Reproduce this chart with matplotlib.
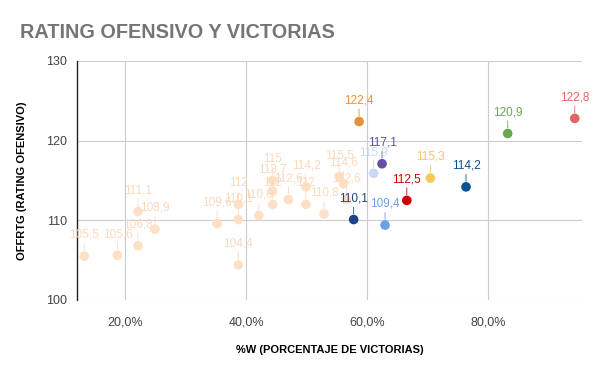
import matplotlib
matplotlib.use("Agg")
import matplotlib.pyplot as plt
from matplotlib.ticker import FuncFormatter

plt.rcParams['font.family'] = ['Liberation Sans', 'DejaVu Sans']

# win percentage (%) and offensive rating per team
win_pct = [13.2, 18.7, 22.1, 22.1, 24.9, 35.2, 38.7, 38.7, 38.7, 42.1,
           44.4, 44.4, 44.4, 47.0, 49.9, 49.9, 52.9, 55.4, 56.1, 56.6,
           94.4, 83.3, 76.4, 70.5, 66.6, 63.0, 57.8, 62.5, 61.1, 58.7]
off_rtg = [105.5, 105.6, 111.1, 106.8, 108.9, 109.6, 112.0, 110.1, 104.4, 110.6,
           115.0, 113.7, 112.0, 112.6, 114.2, 112.0, 110.8, 115.5, 114.6, 112.6,
           122.8, 120.9, 114.2, 115.3, 112.5, 109.4, 110.1, 117.1, 115.9, 122.4]
peach = '#fde0c5'
colors = [peach] * 20 + ['#e06666', '#6aa84f', '#0b5394', '#f6c95a', '#cc0000',
                         '#6d9eeb', '#1c4587', '#674ea7', '#c9daf8', '#e69138']
label_colors = ['#fbd9bb'] * 20 + colors[20:]


def fmt_val(v):
    s = "{:.1f}".format(v).replace('.', ',')
    return s[:-2] if s.endswith(',0') else s


fig = plt.figure(figsize=(6, 3.71), dpi=100)
ax = fig.add_axes([0.1283, 0.1914, 0.97 - 0.1283, 0.8356 - 0.1914])

ax.scatter(win_pct, off_rtg, s=48, c=colors, zorder=3, linewidths=0)
for x, y, lc in zip(win_pct, off_rtg, label_colors):
    ax.annotate(fmt_val(y), (x, y), xytext=(0, 11), textcoords='offset points',
                ha='center', va='bottom', fontsize=8.5, color=lc, zorder=4,
                arrowprops=dict(arrowstyle='-', color=lc, lw=0.6, shrinkA=0, shrinkB=4))

ax.set_xlim(12.0, 95.6)
ax.set_ylim(100, 130)
ax.set_xticks([20, 40, 60, 80])
ax.set_yticks([100, 110, 120, 130])
ax.xaxis.set_major_formatter(FuncFormatter(lambda v, p: "{:.1f}%".format(v).replace('.', ',')))
ax.grid(True, color='#cccccc', lw=0.8)
ax.set_axisbelow(True)
for side in ['top', 'right', 'bottom']:
    ax.spines[side].set_visible(False)
ax.spines['left'].set_color('#222222')
ax.spines['left'].set_linewidth(1.0)
ax.tick_params(length=0, labelsize=9, colors='#444444')
ax.tick_params(axis='x', pad=12)
ax.tick_params(axis='y', pad=7)

ax.set_xlabel('%W (PORCENTAJE DE VICTORIAS)', fontsize=8, fontweight='bold', labelpad=12)
ax.set_ylabel('OFFRTG (RATING OFENSIVO)', fontsize=8, fontweight='bold', labelpad=14)
fig.text(20 / 600, 1 - 32 / 371, 'RATING OFENSIVO Y VICTORIAS', fontsize=14.3,
         fontweight='bold', color='#757575', va='center', ha='left')

plt.savefig('out.png')
